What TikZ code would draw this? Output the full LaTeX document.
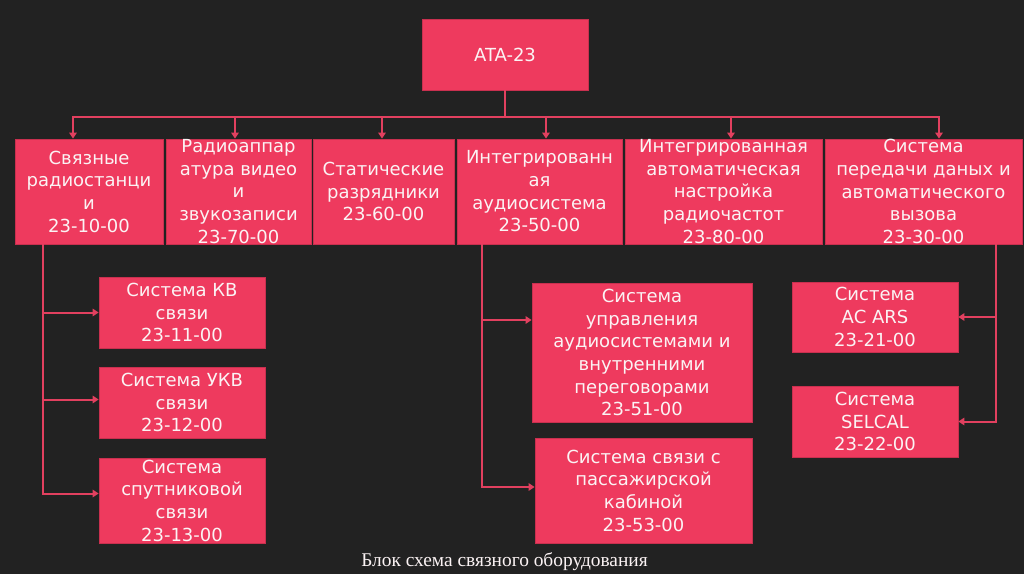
\documentclass[tikz,border=0pt]{standalone}
\usepackage{fontspec}
\setmainfont{DejaVu Sans}
\newfontfamily\capfont{Liberation Serif}
\usetikzlibrary{arrows.meta, positioning, calc}
\definecolor{mdark}{HTML}{222222}
\definecolor{mpink}{HTML}{EE3A5E}
\definecolor{mrim}{HTML}{C9304F}
\definecolor{mwire}{HTML}{E2405F}
\definecolor{mwhite}{HTML}{FBF3F4}
\tikzset{
  pbox/.style={draw=mrim, line width=0.8pt, fill=mpink, text=mwhite, align=center,
               inner sep=0pt, font=\fontsize{18}{22.7}\selectfont},
  wire/.style={draw=mwire, line width=2pt},
  arr/.style={wire, -{Triangle[length=6pt,width=7.5pt]}},
}

\begin{document}
\begin{tikzpicture}[x=1pt, y=-1pt]
  \fill[mdark] (0,0) rectangle (1024,574);
  \useasboundingbox (0,0) rectangle (1024,574);
  % Root
  \node[pbox, minimum width=166, minimum height=71] (ata) at (505, 54.5) {ATA-23};
  \coordinate (bus) at (505, 117);
  % Top row
  \node[pbox, minimum width=148, minimum height=105] (b1) at (89, 191.5)
    {Связные\\радиостанци\\и\\23-10-00};
  \node[pbox, minimum width=145, minimum height=105] (b2) at (238.5, 191.5)
    {Радиоаппар\\атура видео\\и\\звукозаписи\\23-70-00};
  \node[pbox, minimum width=141, minimum height=105] (b3) at (383.5, 191.5)
    {Статические\\разрядники\\23-60-00};
  \node[pbox, minimum width=165, minimum height=105] (b4) at (539.5, 191.5)
    {Интегрированн\\ая\\аудиосистема\\23-50-00};
  \node[pbox, minimum width=197, minimum height=105] (b5) at (723.5, 191.5)
    {Интегрированная\\автоматическая\\настройка\\радиочастот\\23-80-00};
  \node[pbox, minimum width=197, minimum height=105] (b6) at (923.5, 191.5)
    {Система\\передачи даных и\\автоматического\\вызова\\23-30-00};
  \draw[wire] (ata) -- (bus);
  \draw[arr] (bus) -| ([xshift=-16]b1.north);
  \draw[arr] (bus) -| ([xshift=-3.5]b2.north);
  \draw[arr] (bus) -| ([xshift=-1.5]b3.north);
  \draw[arr] (bus) -| ([xshift=6.5]b4.north);
  \draw[arr] (bus) -| ([xshift=7.5]b5.north);
  \draw[arr] (bus) -| ([xshift=15.5]b6.north);
  % Radio stations
  \node[pbox, minimum width=166, minimum height=71] (s1) at (182, 312.5)
    {Система КВ\\связи\\23-11-00};
  \node[pbox, minimum width=166, minimum height=71] (s2) at (182, 402.5)
    {Система УКВ\\связи\\23-12-00};
  \node[pbox, minimum width=166, minimum height=85] (s3) at (182, 500.5)
    {Система\\спутниковой\\связи\\23-13-00};
  \draw[arr] ([xshift=-46]b1.south) |- (s1.west);
  \draw[arr] ([xshift=-46]b1.south) |- ([yshift=3]s2.west);
  \draw[arr] ([xshift=-46]b1.south) |- ([yshift=7]s3.west);
  % Audio system
  \node[pbox, minimum width=220, minimum height=139] (m1) at (642, 352.5)
    {Система\\управления\\аудиосистемами и\\внутренними\\переговорами\\23-51-00};
  \node[pbox, minimum width=217, minimum height=105] (m2) at (643.5, 490.5)
    {Система связи с\\пассажирской\\кабиной\\23-53-00};
  \draw[arr] ([xshift=-57.5]b4.south) |- ([yshift=32.5]m1.west);
  \draw[arr] ([xshift=-57.5]b4.south) |- ([yshift=3.5]m2.west);
  % Data link
  \node[pbox, minimum width=166, minimum height=70] (r1) at (875, 317)
    {Система\\AC ARS\\23-21-00};
  \node[pbox, minimum width=166, minimum height=71] (r2) at (875, 421.5)
    {Система\\SELCAL\\23-22-00};
  \draw[arr] ([xshift=72.5]b6.south) |- (r1.east);
  \draw[arr] ([xshift=72.5]b6.south) |- (r2.east);
  % Caption
  \node[text=mwhite, font=\capfont\fontsize{19.4}{21}\selectfont] (cap) at (504.5, 562)
    {Блок схема связного оборудования};
\end{tikzpicture}
\end{document}
